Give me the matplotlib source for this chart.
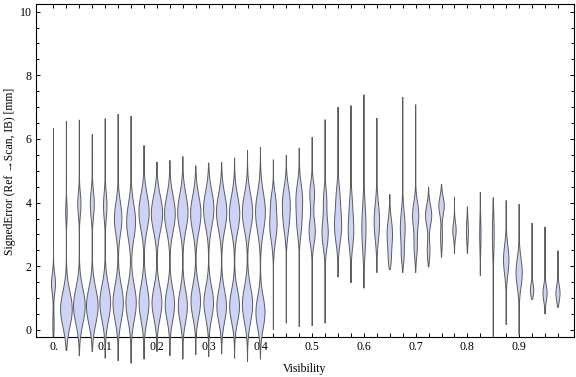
import numpy as np
import matplotlib
matplotlib.use("Agg")
import matplotlib.pyplot as plt
from matplotlib.patches import Polygon
from matplotlib.ticker import MultipleLocator, FixedLocator, FixedFormatter

# ---------------- data ----------------
visibility = [0.0, 0.025, 0.05, 0.075, 0.1, 0.125, 0.15, 0.175, 0.2, 0.225,
              0.25, 0.275, 0.3, 0.325, 0.35, 0.375, 0.4, 0.425, 0.45, 0.475,
              0.5, 0.525, 0.55, 0.575, 0.6, 0.625, 0.65, 0.675, 0.7, 0.725,
              0.75, 0.775, 0.8, 0.825, 0.85, 0.875, 0.9, 0.925, 0.95, 0.975]

err_min = [-0.22, -0.65, -0.82, -0.68, -0.89, -0.97, -1.05, -0.92, -0.68, -0.81,
           -0.92, -0.78, -0.84, -0.76, -0.89, -0.99, -0.92, 0.00, 0.21, 0.10,
           0.13, 0.21, 1.66, 1.48, 1.31, 1.80, 1.90, 1.80, 1.80, 1.98,
           2.28, 2.40, 2.40, 1.71, -0.22, 0.16, -0.16, 0.96, 0.50, 0.71]

err_max = [6.34, 6.56, 6.60, 6.15, 6.64, 6.78, 6.72, 5.80, 5.28, 5.33,
           5.45, 5.16, 5.25, 5.27, 5.41, 5.64, 5.75, 5.35, 5.49, 5.72,
           6.06, 6.61, 7.00, 7.05, 7.39, 6.66, 4.26, 7.31, 7.08, 4.49,
           4.58, 4.18, 3.87, 4.32, 4.16, 4.07, 3.95, 3.36, 3.24, 2.49]

# density modes per violin: (centre [mm], spread [mm], full width [fraction of slot])
modes = [
    [(1.46, 0.30, 0.31), (0.20, 0.40, 0.10)],
    [(0.65, 0.55, 0.90), (3.70, 0.30, 0.12)],
    [(0.75, 0.55, 0.90), (3.95, 0.35, 0.25)],
    [(0.75, 0.55, 0.90), (3.95, 0.40, 0.31)],
    [(0.85, 0.55, 0.83), (3.90, 0.40, 0.27)],
    [(0.85, 0.55, 0.80), (3.50, 0.50, 0.58)],
    [(0.85, 0.55, 0.80), (3.40, 0.55, 0.69)],
    [(0.85, 0.55, 0.76), (3.70, 0.55, 0.79)],
    [(0.85, 0.50, 0.76), (3.65, 0.55, 0.87)],
    [(0.80, 0.50, 0.72), (3.65, 0.55, 0.83)],
    [(0.75, 0.50, 0.70), (3.70, 0.55, 0.80)],
    [(0.90, 0.50, 0.74), (3.65, 0.55, 0.80)],
    [(0.85, 0.50, 0.74), (3.80, 0.55, 0.80)],
    [(0.75, 0.50, 0.74), (3.70, 0.55, 0.80)],
    [(0.75, 0.50, 0.76), (3.65, 0.55, 0.80)],
    [(0.80, 0.55, 0.79), (3.70, 0.55, 0.80)],
    [(0.55, 0.50, 0.70), (3.70, 0.60, 0.76)],
    [(3.30, 0.50, 0.56), (4.10, 0.30, 0.23)],
    [(4.05, 0.45, 0.54), (3.30, 0.40, 0.31)],
    [(4.15, 0.45, 0.48), (3.30, 0.40, 0.31)],
    [(4.28, 0.35, 0.36), (3.10, 0.40, 0.48)],
    [(4.10, 0.35, 0.23), (3.05, 0.45, 0.48)],
    [(3.25, 0.50, 0.54), (4.20, 0.40, 0.23)],
    [(3.10, 0.50, 0.42), (4.00, 0.40, 0.15)],
    [(3.20, 0.70, 0.32)],
    [(3.40, 0.55, 0.42)],
    [(3.00, 0.45, 0.42), (2.20, 0.25, 0.15)],
    [(3.20, 0.50, 0.37), (2.30, 0.25, 0.15)],
    [(3.60, 0.40, 0.48), (2.60, 0.35, 0.23)],
    [(3.60, 0.32, 0.48), (2.50, 0.30, 0.21)],
    [(3.90, 0.28, 0.42), (2.90, 0.30, 0.15)],
    [(3.13, 0.25, 0.26)],
    [(3.10, 0.35, 0.15)],
    [(3.00, 0.50, 0.10)],
    [(3.00, 0.60, 0.14)],
    [(2.20, 0.45, 0.42)],
    [(1.80, 0.45, 0.48)],
    [(1.25, 0.20, 0.26)],
    [(1.15, 0.25, 0.32)],
    [(1.15, 0.25, 0.32)],
]

x_tick_labels = ["0.", "0.1", "0.2", "0.3", "0.4", "0.5", "0.6", "0.7", "0.8", "0.9"]
x_label = "Visibility"
y_label = "SignedError (Ref \u2192Scan, IB) [mm]"

# ---------------- figure ----------------
FONT = ["Liberation Serif", "DejaVu Serif"]
plt.rcParams["font.family"] = FONT

W, H = 576, 377
fig = plt.figure(figsize=(W / 100, H / 100), dpi=100)
ax = fig.add_axes([36 / W, 1 - 337 / H, (574 - 36) / W, (337 - 4) / H])

slot = 0.025
fill_col = "#CCD3F4"
edge_col = "#5c5c5c"

for xc, lo, hi, md in zip(visibility, err_min, err_max, modes):
    y = np.linspace(lo, hi, 400)
    w = np.zeros_like(y)
    for c, s, fw in md:
        w += fw * slot / 2 * np.exp(-0.5 * ((y - c) / s) ** 2)
    w[0] = 0
    w[-1] = 0
    xs = np.concatenate([xc + w, (xc - w)[::-1]])
    ys = np.concatenate([y, y[::-1]])
    poly = Polygon(np.column_stack([xs, ys]), closed=True, facecolor=fill_col,
                   edgecolor=edge_col, linewidth=0.7, clip_on=False, zorder=3)
    ax.add_patch(poly)

ax.set_xlim(-0.0338, 1.006)
ax.set_ylim(-0.22, 10.24)

# ticks
ax.xaxis.set_major_locator(FixedLocator(visibility))
labels_all = []
for i in range(len(visibility)):
    labels_all.append(x_tick_labels[i // 4] if i % 4 == 0 else "")
ax.xaxis.set_major_formatter(FixedFormatter(labels_all))
ax.yaxis.set_major_locator(MultipleLocator(2))
ax.yaxis.set_minor_locator(MultipleLocator(0.5))

ax.tick_params(which="both", direction="in", top=True, right=True,
               width=0.7, color="black", labelsize=8.6, labelcolor="black")
ax.tick_params(axis="x", which="major", length=2.9, pad=3)
ax.tick_params(axis="y", which="major", length=2.9, pad=3)
ax.tick_params(axis="y", which="minor", length=1.9)

for sp in ax.spines.values():
    sp.set_linewidth(0.8)
    sp.set_color("black")

fig.text(305 / W, 1 - 369 / H, x_label, ha="center", va="center", fontsize=8.4)
fig.text(10 / W, 1 - 171 / H, y_label, ha="center", va="center",
         rotation=90, fontsize=8.4)

fig.savefig("out.png", dpi=100)
